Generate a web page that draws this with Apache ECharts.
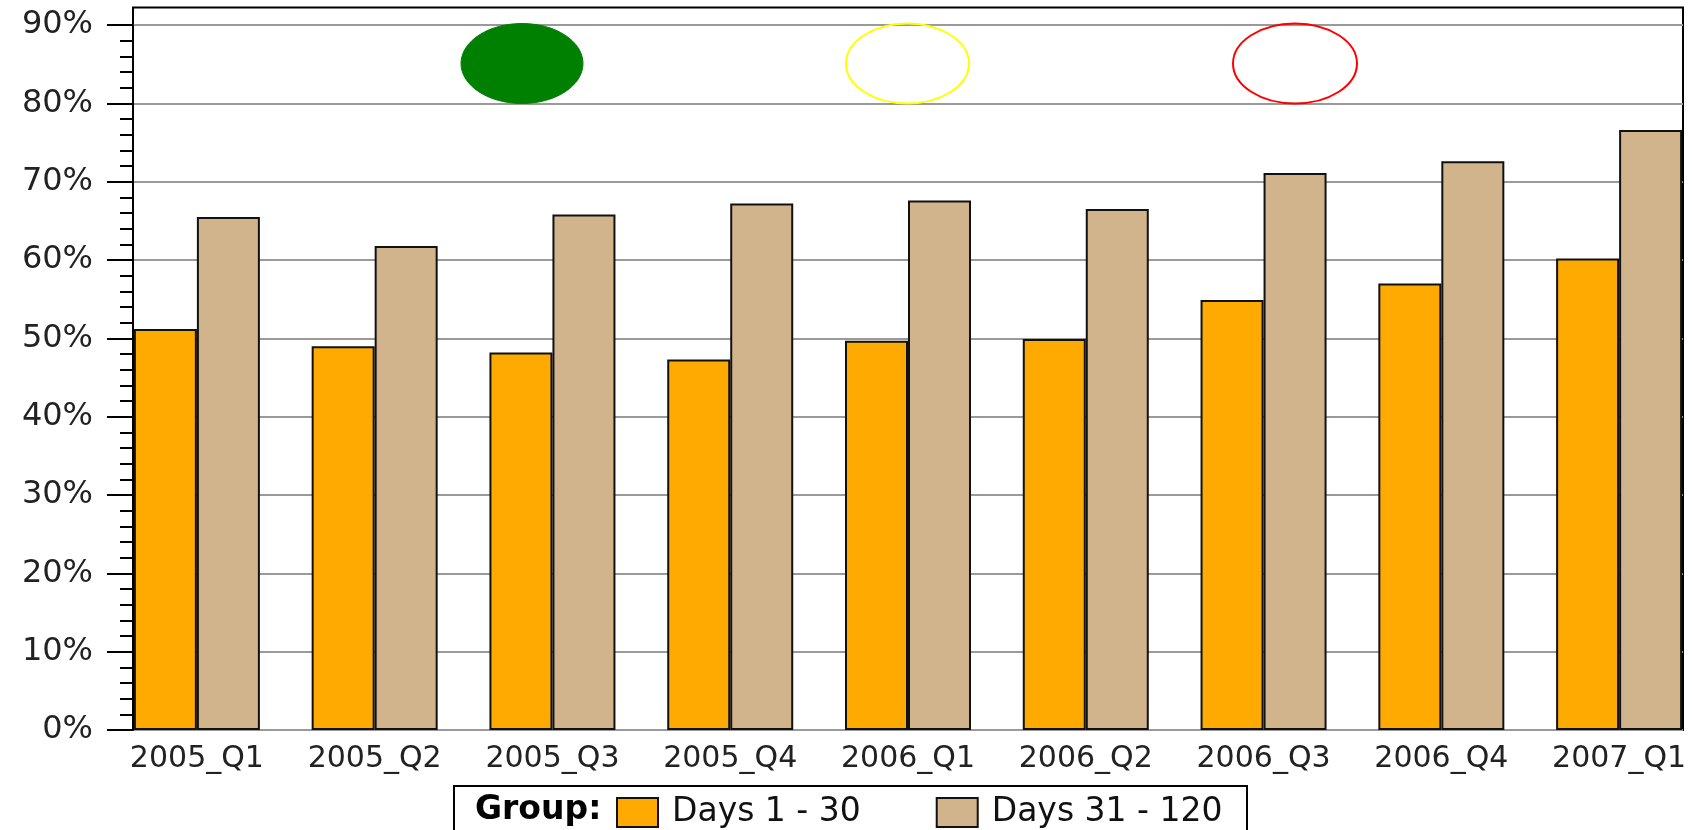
<!DOCTYPE html>
<html>
<head>
<meta charset="utf-8">
<script src="https://cdn.jsdelivr.net/npm/echarts@6/dist/echarts.min.js"></script>
<style>
  html, body { margin: 0; padding: 0; background: #fff; }
  #chart { width: 1692px; height: 830px; }
</style>
</head>
<body>
<div id="chart"></div>
<script>
// 季度
const categories = ['2005_Q1', '2005_Q2', '2005_Q3', '2005_Q4', '2006_Q1', '2006_Q2', '2006_Q3', '2006_Q4', '2007_Q1']
// Days 1 - 30 (%)
const days1to30 = [51.2, 49.0, 48.2, 47.3, 49.7, 49.9, 54.9, 57.0, 60.2]
// Days 31 - 120 (%)
const days31to120 = [65.5, 61.8, 65.8, 67.2, 67.6, 66.5, 71.1, 72.6, 76.6]
const seriesNames = ['Days 1 - 30', 'Days 31 - 120']
const yMin = 0
const yMax = 90
const yStep = 10

const font = 'DejaVu Sans'
let charts = echarts.init(document.getElementById('chart'))
let option = {
  backgroundColor: '#fff',
  animation: false,
  grid: [
    // 坐标轴 + 网格线
    { left: 133, right: 9, top: 25, bottom: 100 },
    // 外框
    { left: 133, right: 9, top: 7.5, bottom: 100, show: true, borderColor: '#000', borderWidth: 2 },
    // 柱子（比外框宽，让两端的柱子贴边）
    { left: 108, width: 1600, top: 25, bottom: 100, outerBoundsMode: 'none' }
  ],
  xAxis: [
    { gridIndex: 0, type: 'value', show: false },
    { gridIndex: 1, type: 'value', show: false },
    {
      gridIndex: 2,
      type: 'category',
      data: categories,
      axisLine: { show: false },
      axisTick: { show: false },
      axisLabel: {
        interval: 0,
        margin: 14,
        color: '#222',
        fontFamily: font,
        fontSize: 30
      }
    }
  ],
  yAxis: [
    {
      gridIndex: 0,
      type: 'value',
      min: yMin,
      max: yMax,
      interval: yStep,
      axisLine: { show: true, lineStyle: { color: '#000', width: 2 } },
      axisTick: { show: true, length: 26, lineStyle: { color: '#000', width: 2 } },
      minorTick: { show: true, splitNumber: 5, length: 13, lineStyle: { color: '#000', width: 2 } },
      splitLine: { show: true, lineStyle: { color: '#9a9a9a', width: 2 } },
      axisLabel: {
        margin: 40,
        color: '#222',
        fontFamily: font,
        fontSize: 32,
        formatter: '{value}%'
      }
    },
    { gridIndex: 1, type: 'value', show: false },
    { gridIndex: 2, type: 'value', min: yMin, max: yMax, show: false }
  ],
  legend: {
    left: 611,
    top: 791,
    icon: 'rect',
    itemWidth: 41,
    itemHeight: 29,
    itemGap: 75,
    textStyle: {
      color: '#111',
      fontFamily: font,
      fontSize: 33,
      padding: [0, 0, 0, 9]
    },
    data: seriesNames
  },
  graphic: [
    // 图例外框
    {
      type: 'rect',
      z: 0,
      shape: { x: 454, y: 786, width: 793, height: 70 },
      style: { fill: '#fff', stroke: '#000', lineWidth: 2 }
    },
    {
      type: 'text',
      z: 5,
      x: 475,
      y: 810,
      style: {
        text: 'Group:',
        fill: '#000',
        font: 'bold 33px "DejaVu Sans"',
        verticalAlign: 'middle'
      }
    },
    // 状态灯
    {
      type: 'ellipse',
      z: 5,
      shape: { cx: 522, cy: 63.5, rx: 61, ry: 40 },
      style: { fill: '#008000', stroke: '#008000', lineWidth: 1 }
    },
    {
      type: 'ellipse',
      z: 5,
      shape: { cx: 907.5, cy: 63.5, rx: 61.5, ry: 40 },
      style: { fill: 'none', stroke: '#ffff00', lineWidth: 2 }
    },
    {
      type: 'ellipse',
      z: 5,
      shape: { cx: 1295, cy: 63.5, rx: 62, ry: 40 },
      style: { fill: 'none', stroke: '#ff0000', lineWidth: 2 }
    }
  ],
  series: [
    {
      name: seriesNames[0],
      type: 'bar',
      xAxisIndex: 2,
      yAxisIndex: 2,
      barWidth: 63,
      barGap: '0%',
      itemStyle: { color: '#ffaa00', borderColor: '#111', borderWidth: 2 },
      data: days1to30
    },
    {
      name: seriesNames[1],
      type: 'bar',
      xAxisIndex: 2,
      yAxisIndex: 2,
      barWidth: 63,
      barGap: '0%',
      itemStyle: { color: '#d2b48c', borderColor: '#111', borderWidth: 2 },
      data: days31to120
    }
  ]
}
charts.setOption(option)
</script>
</body>
</html>
